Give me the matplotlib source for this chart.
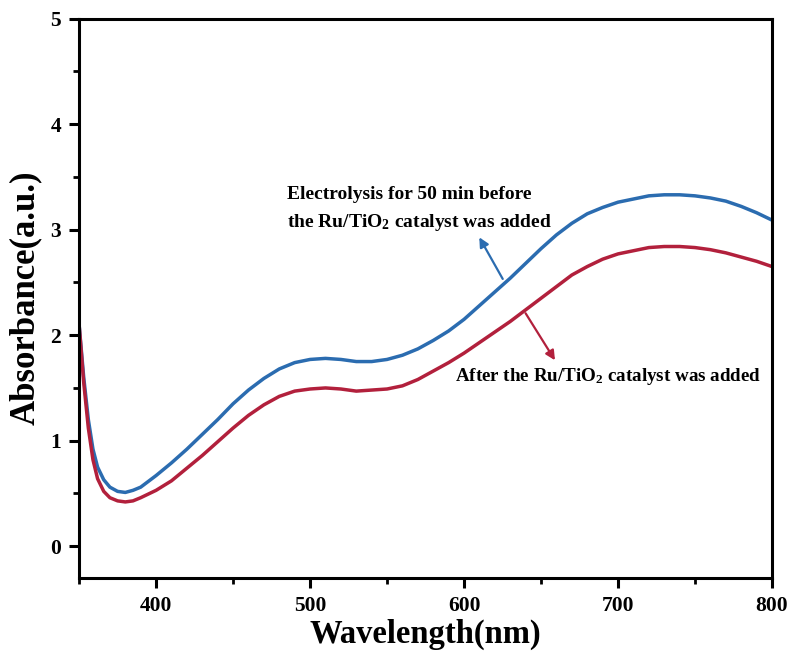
import matplotlib
matplotlib.use("Agg")
import matplotlib.pyplot as plt
from matplotlib.ticker import MultipleLocator

# wavelength grid (nm) and absorbance
wl = [350, 353, 356, 359, 362, 366, 370, 375, 380, 385, 390, 400, 410, 420, 430,
      440, 450, 460, 470, 480, 490, 500, 510, 520, 530, 540, 550, 560, 570, 580,
      590, 600, 610, 620, 630, 640, 650, 660, 670, 680, 690, 700, 710, 720, 730,
      740, 750, 760, 770, 780, 790, 800]

before = [2.10, 1.60, 1.20, 0.92, 0.75, 0.63, 0.56, 0.52, 0.51, 0.53, 0.56, 0.67,
          0.79, 0.92, 1.06, 1.20, 1.35, 1.48, 1.59, 1.68, 1.74, 1.77, 1.78, 1.77,
          1.75, 1.75, 1.77, 1.81, 1.87, 1.95, 2.04, 2.15, 2.28, 2.41, 2.54, 2.68,
          2.82, 2.95, 3.06, 3.15, 3.21, 3.26, 3.29, 3.32, 3.33, 3.33, 3.32, 3.30,
          3.27, 3.22, 3.16, 3.09]

after = [2.10, 1.55, 1.12, 0.82, 0.64, 0.52, 0.46, 0.43, 0.42, 0.43, 0.46, 0.53,
         0.62, 0.74, 0.86, 0.99, 1.12, 1.24, 1.34, 1.42, 1.47, 1.49, 1.50, 1.49,
         1.47, 1.48, 1.49, 1.52, 1.58, 1.66, 1.74, 1.83, 1.93, 2.03, 2.13, 2.24,
         2.35, 2.46, 2.57, 2.65, 2.72, 2.77, 2.80, 2.83, 2.84, 2.84, 2.83, 2.81,
         2.78, 2.74, 2.70, 2.65]

BLUE = "#2b6cb0"
RED = "#b2203c"

plt.rcParams["font.family"] = ["Liberation Serif", "DejaVu Serif"]
plt.rcParams["font.weight"] = "bold"
plt.rcParams["mathtext.fontset"] = "custom"
plt.rcParams["mathtext.rm"] = "Liberation Serif:bold"
plt.rcParams["mathtext.default"] = "rm"

fig = plt.figure(figsize=(7.91, 6.62), dpi=100)
ax = fig.add_axes([0.100, 0.127, 0.876, 0.845])

ax.plot(wl, before, color=BLUE, lw=2.5, solid_joinstyle="round")
ax.plot(wl, after, color=RED, lw=2.5, solid_joinstyle="round")

ax.set_xlim(350, 800)
ax.set_ylim(-0.3, 5)
ax.xaxis.set_major_locator(MultipleLocator(100))
ax.xaxis.set_minor_locator(MultipleLocator(50))
ax.yaxis.set_major_locator(MultipleLocator(1))
ax.yaxis.set_minor_locator(MultipleLocator(0.5))

for s in ax.spines.values():
    s.set_linewidth(2.2)
ax.tick_params(which="major", direction="out", length=7, width=2.2, labelsize=15.5, pad=6)
ax.tick_params(which="minor", direction="out", length=4, width=2.0)
for lab in ax.get_xticklabels() + ax.get_yticklabels():
    lab.set_fontweight("bold")

ax.set_xlabel("Wavelength(nm)", fontsize=23.5, fontweight="bold", labelpad=2)
ax.set_ylabel("Absorbance(a.u.)", fontsize=25, fontweight="bold", labelpad=6)

ax.annotate("", xy=(609, 2.95), xytext=(626, 2.51),
            arrowprops=dict(arrowstyle="-|>", color=BLUE, lw=1.6, mutation_scale=14))
ax.annotate("", xy=(660, 1.74), xytext=(639, 2.23),
            arrowprops=dict(arrowstyle="-|>", color=RED, lw=1.6, mutation_scale=14))

ax.text(485, 3.19, "Electrolysis for 50 min before\nthe Ru/TiO$_2$ catalyst was added",
        fontsize=14, fontweight="bold", ha="left", va="center", linespacing=1.6)
ax.text(594, 1.61, "After the Ru/TiO$_2$ catalyst was added",
        fontsize=13.7, fontweight="bold", ha="left", va="center")

fig.savefig("out.png", dpi=100)
